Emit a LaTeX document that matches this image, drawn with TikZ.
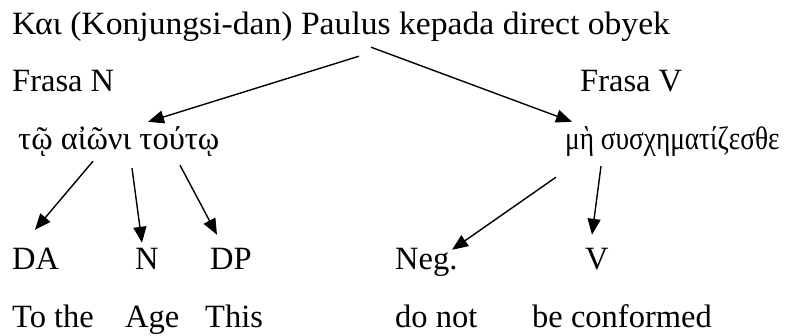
\documentclass[tikz,border=0pt]{standalone}
\usepackage{fontspec}
\setmainfont{Liberation Serif}
\newfontfamily\narrowgrk{Liberation Serif}[FakeStretch=0.84]
\newfontfamily\widerm{Liberation Serif}[FakeStretch=1.035]
\usetikzlibrary{arrows.meta,positioning}

\begin{document}
\begin{tikzpicture}[x=1pt,y=-1pt,
  lbl/.style={anchor=base west,inner sep=0pt,text height=23pt,text depth=7pt,
              font=\fontsize{32.5}{36}\selectfont},
  arr/.style={-{Triangle[length=16pt,width=13pt]},line width=1.4pt}]
  \useasboundingbox (0,0) rectangle (787,336);
  % sentence and phrases
  \node[lbl] (top) at (12,35) {\widerm Και (Konjungsi-dan) Paulus kepada direct obyek};
  \node[lbl] (frasaN) at (12,92) {Frasa N};
  \node[lbl] (frasaV) at (580,92) {Frasa V};
  \node[lbl] (np) at (18,150) {τῷ αἰῶνι τούτῳ};
  \node[lbl] (vp) at (565,150) {\narrowgrk μὴ συσχηματίζεσθε};
  % word classes
  \node[lbl] (da) at (12,270) {DA};
  \node[lbl] (n) at (135,270) {N};
  \node[lbl] (dp) at (210,270) {DP};
  \node[lbl] (neg) at (395,270) {Neg.};
  \node[lbl] (v) at (585,270) {V};
  % glosses
  \node[lbl] (tothe) at (12,328) {To the};
  \node[lbl] (age) at (125,328) {Age};
  \node[lbl] (this) at (205,328) {This};
  \node[lbl] (donot) at (395,328) {do not};
  \node[lbl] (conf) at (532,328) {be conformed};
  \draw[arr] ([xshift=347pt,yshift=-14pt]top.south west) -- ([xshift=130pt,yshift=5pt]np.north west);
  \draw[arr] ([xshift=359pt,yshift=-5pt]top.south west) -- ([xshift=7pt,yshift=5pt]vp.north west);
  \draw[arr] ([xshift=75pt,yshift=-4pt]np.south west) -- ([xshift=23pt,yshift=17pt]da.north west);
  \draw[arr] ([xshift=114pt,yshift=-11pt]np.south west) -- ([xshift=7pt,yshift=4pt]n.north west);
  \draw[arr] ([xshift=162pt,yshift=-8pt]np.south west) -- ([xshift=7pt,yshift=12pt]dp.north west);
  \draw[arr] ([xshift=-9pt,yshift=-20pt]vp.south west) -- ([xshift=57pt,yshift=-3pt]neg.north west);
  \draw[arr] ([xshift=36pt,yshift=-9pt]vp.south west) -- ([xshift=7pt,yshift=12pt]v.north west);
\end{tikzpicture}
\end{document}
